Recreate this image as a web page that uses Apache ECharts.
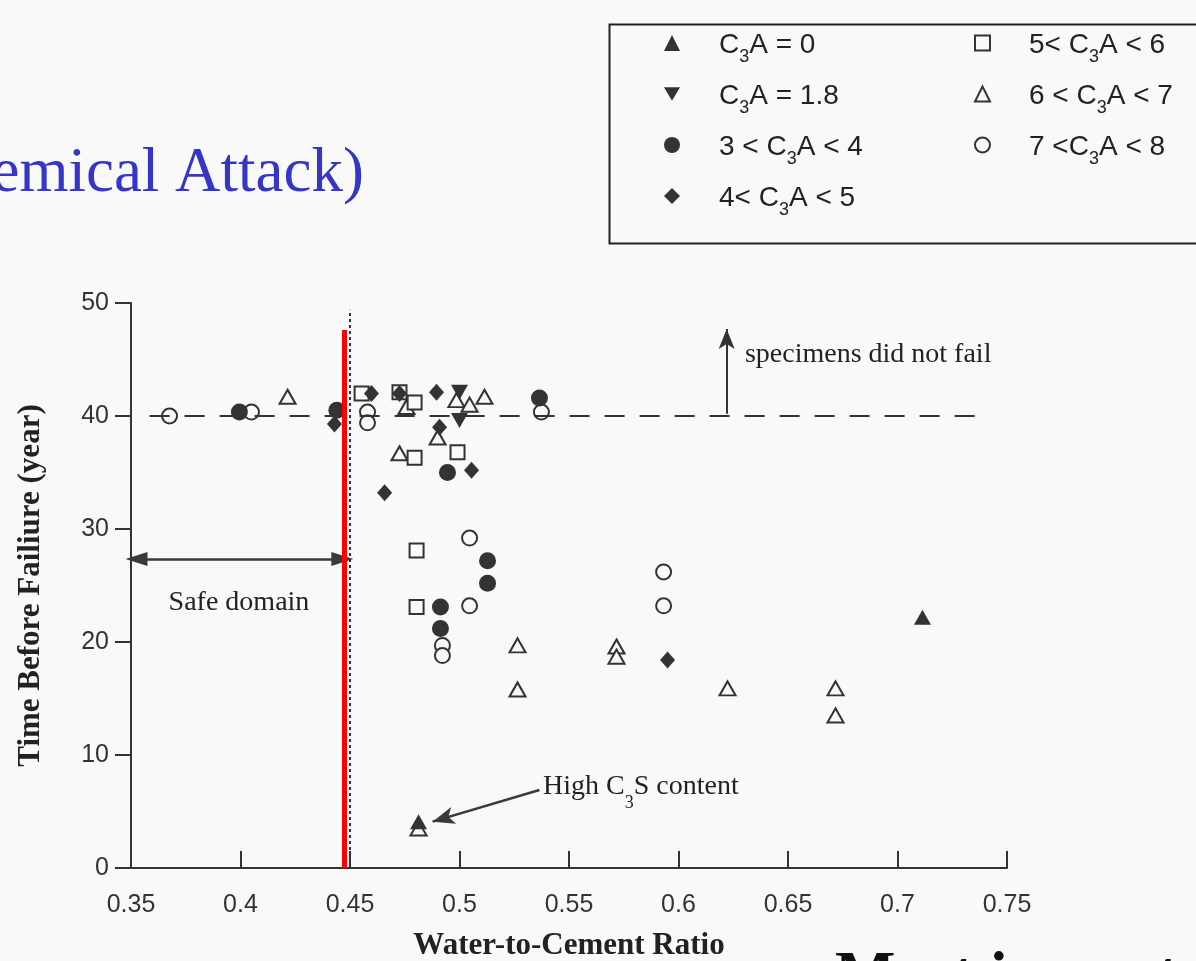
<!DOCTYPE html>
<html>
<head>
<meta charset="utf-8">
<script src="https://cdn.jsdelivr.net/npm/echarts@6/dist/echarts.min.js"></script>
<style>
html,body{margin:0;padding:0;background:#f9f9f9;}
#c{width:1196px;height:961px;}
</style>
</head>
<body>
<div id="c"></div>
<script>
// ---- tick labels ----
const xTickLabels = ['0.35','0.4','0.45','0.5','0.55','0.6','0.65','0.7','0.75'];
const yTickLabels = ['0','10','20','30','40','50'];

// ---- series values [w/c ratio, years] ----
const c3a0   = [[0.7114,22.2],[0.4813,4.1]];
const c3a18  = [[0.5000,42.1],[0.5000,39.6]];
const c3a34  = [[0.3995,40.35],[0.4440,40.5],[0.4945,35.0],[0.5365,41.6],[0.5128,27.2],[0.5128,25.2],[0.4913,23.1],[0.4913,21.2]];
const c3a45  = [[0.4429,39.3],[0.4598,42.0],[0.4895,42.1],[0.4909,39.0],[0.5055,35.2],[0.4658,33.2],[0.5950,18.4],[0.4726,42.0]];
const c3a56  = [[0.4553,42.0],[0.4726,42.1],[0.4795,41.2],[0.4795,36.3],[0.4991,36.8],[0.4804,28.1],[0.4804,23.1]];
const c3a67  = [[0.4215,41.7],[0.4758,40.8],[0.4726,36.7],[0.4900,38.1],[0.4986,41.4],[0.5046,41.0],[0.5114,41.7],
                [0.5265,19.7],[0.5265,15.8],[0.5717,19.6],[0.5717,18.7],[0.6224,15.9],[0.6717,15.9],[0.6717,13.5],[0.4813,3.5]];
const c3a78  = [[0.3676,40.0],[0.4050,40.35],[0.4580,40.35],[0.4580,39.4],[0.5374,40.35],[0.5046,29.2],[0.5046,23.2],
                [0.4922,19.7],[0.4922,18.8],[0.5932,26.2],[0.5932,23.2]];

// ---- series names / legend labels ----
const names = ['C3A = 0','C3A = 1.8','3 < C3A < 4','4< C3A < 5','5< C3A < 6','6 < C3A < 7','7 <C3A < 8'];
const legendRich = {
  'C3A = 0':'{t|C}{s|3}{t|A = 0}',
  'C3A = 1.8':'{t|C}{s|3}{t|A = 1.8}',
  '3 < C3A < 4':'{t|3 < C}{s|3}{t|A < 4}',
  '4< C3A < 5':'{t|4< C}{s|3}{t|A < 5}',
  '5< C3A < 6':'{t|5< C}{s|3}{t|A < 6}',
  '6 < C3A < 7':'{t|6 < C}{s|3}{t|A < 7}',
  '7 <C3A < 8':'{t|7 <C}{s|3}{t|A < 8}'
};

// ---- annotation geometry (data units) ----
const failLine   = [[0.3585,40],[0.742,40]];
const wcLine     = [[0.45,0],[0.45,49.4]];
const redLine    = [[0.4475,0],[0.4475,47.6]];
const noFailArrow= [[0.622,40.2],[0.622,47.7]];
const safeArrow  = [[0.3525,27.35],[0.4465,27.35]];
const c3sArrow   = [[0.5365,6.9],[0.4877,4.1]];
const noFailText = [0.6301,45.4];
const safeText   = [0.3993,23.45];
const c3sText    = [0.5379,6.95];

const INK = '#333333';
const BG = '#f9f9f9';
const downTri = 'path://M0,0L20,0L10,17Z';

function mk(name, data, symbol, size, filled, z){
  return {
    name, type:'scatter', data, symbol, symbolSize:size, z:z||2,
    silent:true, animation:false,
    itemStyle: filled ? {color:INK, opacity:1} : {color:BG, borderColor:INK, borderWidth:2, opacity:1}
  };
}

const chart = echarts.init(document.getElementById('c'), null, {renderer:'canvas'});

const legendText = {
  padding:[12,0,0,34],
  rich:{
    t:{fontSize:28, fontFamily:'Liberation Sans', color:'#222', lineHeight:36, verticalAlign:'top'},
    s:{fontSize:18, fontFamily:'Liberation Sans', color:'#222', lineHeight:18, padding:[17,0,0,0], verticalAlign:'top'}
  }
};

const option = {
  backgroundColor: BG,
  animation:false,
  grid:{left:131, right:189, top:303, bottom:93, outerBoundsMode:'none', containLabel:false},
  xAxis:{
    type:'value', min:0.35, max:0.75, interval:0.05,
    name:'Water-to-Cement Ratio', nameLocation:'middle', nameGap:62,
    nameTextStyle:{fontFamily:'Liberation Serif', fontWeight:'bold', fontSize:31, color:'#222'},
    axisLine:{show:true, onZero:false, lineStyle:{color:INK, width:2}},
    axisTick:{show:true, inside:true, length:17, lineStyle:{color:INK, width:2}},
    axisLabel:{margin:25, fontFamily:'Liberation Sans', fontSize:25, color:INK,
      formatter:(v)=>{const i=Math.round((v-0.35)/0.05); return xTickLabels[i]||'';}},
    splitLine:{show:false}
  },
  yAxis:{
    type:'value', min:0, max:50, interval:10,
    name:'Time Before Failiure (year)', nameLocation:'middle', nameGap:85, nameRotate:90,
    nameTextStyle:{fontFamily:'Liberation Serif', fontWeight:'bold', fontSize:31, color:'#222'},
    axisLine:{show:true, onZero:false, lineStyle:{color:INK, width:2}},
    axisTick:{show:true, inside:false, length:16, lineStyle:{color:INK, width:2}},
    axisLabel:{margin:22, fontFamily:'Liberation Sans', fontSize:25, color:INK,
      formatter:(v)=>yTickLabels[Math.round(v/10)]||''},
    splitLine:{show:false}
  },
  legend:[
    {data:names.slice(0,4), orient:'vertical', left:664, top:31, padding:0, itemGap:16,
     itemWidth:16, itemHeight:16, selectedMode:false, formatter:(n)=>legendRich[n], textStyle:legendText},
    {data:names.slice(4), orient:'vertical', left:974, top:31, padding:0, itemGap:16,
     itemWidth:15, itemHeight:15, selectedMode:false, formatter:(n)=>legendRich[n], textStyle:legendText}
  ],
  graphic:[
    {type:'rect', left:607, top:22, shape:{x:0,y:0,width:640,height:219}, style:{fill:'none', stroke:'#222', lineWidth:2}, silent:true},
    {type:'text', x:364, y:174, silent:true, style:{text:'(Chemical Attack)', align:'right', verticalAlign:'middle',
      font:'63px "Liberation Serif"', fill:'#3535c8'}},
    {type:'text', x:835, y:978, silent:true, style:{text:'Most important', align:'left', verticalAlign:'middle',
      font:'bold 64px "Liberation Serif"', fill:'#111'}}
  ],
  series:[
    mk(names[6], c3a78, 'circle', 15, false, 2),
    mk(names[5], c3a67, 'triangle', [16,14], false, 2),
    mk(names[4], c3a56, 'rect', 14, false, 2),
    mk(names[2], c3a34, 'circle', 17, true, 3),
    mk(names[3], c3a45, 'diamond', [15,17], true, 3),
    mk(names[1], c3a18, downTri, [17,15], true, 3),
    mk(names[0], c3a0, 'triangle', [17,15], true, 4),
    {
      type:'scatter', data:[], silent:true, z:1, animation:false,
      markLine:{
        silent:true, animation:false, symbol:'none', label:{show:false},
        emphasis:{disabled:true},
        data:[
          [{coord:failLine[0], symbol:'none', lineStyle:{type:[20,15], width:2, color:INK}}, {coord:failLine[1], symbol:'none'}],
          [{coord:wcLine[0], symbol:'none', lineStyle:{type:[3,3], width:2, color:INK}}, {coord:wcLine[1], symbol:'none'}],
          [{coord:noFailArrow[0], symbol:'none', lineStyle:{type:'solid', width:2, color:INK}}, {coord:noFailArrow[1], symbol:'arrow', symbolSize:[12,20]}],
          [{coord:safeArrow[0], symbol:'triangle', symbolSize:[14,22], lineStyle:{type:'solid', width:2.5, color:'#3a3a3a'}}, {coord:safeArrow[1], symbol:'triangle', symbolSize:[14,22]}],
          [{coord:c3sArrow[0], symbol:'none', lineStyle:{type:'solid', width:2.5, color:'#3a3a3a'}}, {coord:c3sArrow[1], symbol:'arrow', symbolSize:[13,22]}]
        ]
      },
      markPoint:{
        silent:true, animation:false, symbol:'circle', symbolSize:1,
        itemStyle:{color:'rgba(0,0,0,0)'},
        label:{show:true, color:'#222', fontFamily:'Liberation Serif', fontSize:28},
        data:[
          {coord:noFailText, label:{formatter:'specimens did not fail', position:'right', distance:0}},
          {coord:safeText, label:{formatter:'Safe domain', position:'inside'}},
          {coord:c3sText, label:{formatter:'{t|High C}{s|3}{t|S content}', position:'right', distance:0,
            rich:{
              t:{fontSize:28, fontFamily:'Liberation Serif', color:'#222', lineHeight:34, verticalAlign:'top'},
              s:{fontSize:18, fontFamily:'Liberation Serif', color:'#222', lineHeight:18, padding:[22,0,0,0], verticalAlign:'top'}
            }}}
        ]
      }
    },
    {
      type:'scatter', data:[], silent:true, z:10, animation:false,
      markLine:{
        silent:true, animation:false, symbol:'none', label:{show:false},
        data:[[{coord:redLine[0], lineStyle:{type:'solid', width:5, color:'#ff0000'}}, {coord:redLine[1]}]]
      }
    }
  ]
};
chart.setOption(option);
</script>
</body>
</html>
